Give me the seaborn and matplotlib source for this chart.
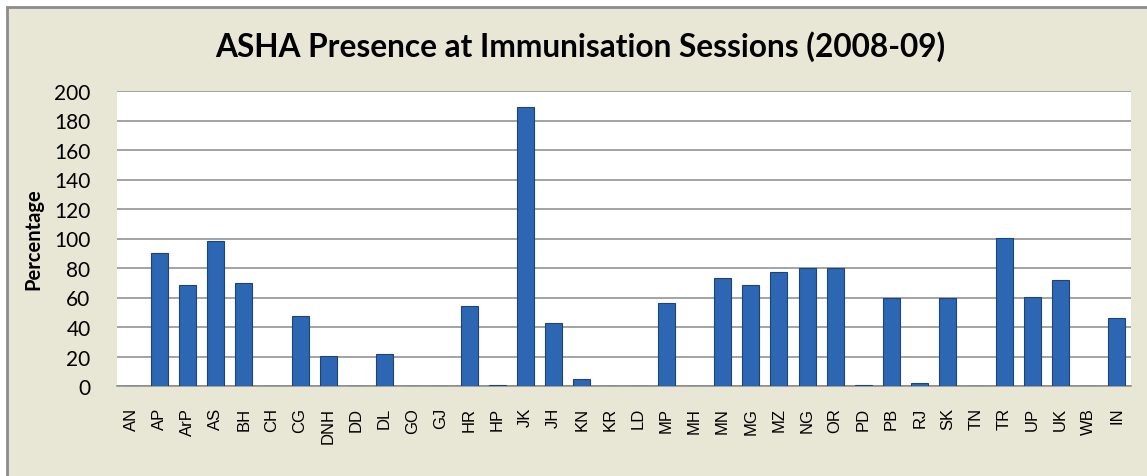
import numpy as np
import pandas as pd
import seaborn as sns
from matplotlib import pyplot as plt
from matplotlib.patches import Rectangle

states = ['AN', 'AP', 'ArP', 'AS', 'BH', 'CH', 'CG', 'DNH', 'DD', 'DL', 'GO', 'GJ',
          'HR', 'HP', 'JK', 'JH', 'KN', 'KR', 'LD', 'MP', 'MH', 'MN', 'MG', 'MZ',
          'NG', 'OR', 'PD', 'PB', 'RJ', 'SK', 'TN', 'TR', 'UP', 'UK', 'WB', 'IN']
percent = [0, 90, 68.5, 98, 70, 0, 47.5, 20.5, 0, 22, 0, 0,
           54.5, 0.5, 189, 42.5, 5, 0, 0, 56, 0, 73.5, 68.5, 77,
           80, 80, 1, 59.5, 2, 59.5, 0, 100.5, 60.5, 72, 0.3, 46]
yticks = list(range(0, 201, 20))

df = pd.DataFrame({'state': states, 'pct': percent})

sns.set_style('white')
plt.rcParams['font.family'] = ['Lato', 'DejaVu Sans']
plt.rcParams['text.color'] = 'black'
plt.rcParams['axes.labelcolor'] = 'black'
plt.rcParams['xtick.color'] = 'black'
plt.rcParams['ytick.color'] = 'black'

fig = plt.figure(figsize=(11.47, 4.77), dpi=100, facecolor='white')
# beige chart frame
frame = Rectangle((7/1147, -0.01), 1.1, 1 - 8/477 + 0.01,
                  transform=fig.transFigure, facecolor='#e8e6d5',
                  edgecolor='#8c8c8c', linewidth=2, zorder=-5)
fig.patches.append(frame)

ax = fig.add_axes([117/1147, 1 - 387/477, (1131 - 117)/1147, (387 - 92)/477])
ax.set_zorder(2)
ax.set_facecolor('white')
sns.barplot(data=df, x='state', y='pct', color='#2d66b3', width=0.6,
            edgecolor='#1d4479', linewidth=0.8, saturation=1, ax=ax, zorder=3)

ax.set_ylim(0, 200)
ax.set_xlim(-0.5, len(states) - 0.5)
ax.set_yticks(yticks)
ax.set_yticklabels([str(t) for t in yticks], fontsize=15)
ax.yaxis.grid(True, color='#8a8a8a', linewidth=1.1, zorder=0)
ax.set_axisbelow(True)
for s in ['left', 'right', 'top']:
    ax.spines[s].set_visible(False)
ax.spines['bottom'].set_color('#8a8a8a')
ax.spines['bottom'].set_linewidth(1.1)

ax.set_xticks(range(len(states)))
ax.set_xticklabels(states, rotation=90, fontsize=12, family=['Liberation Sans', 'DejaVu Sans'])
ax.tick_params(axis='y', length=0, pad=19)
ax.tick_params(axis='x', length=0, pad=15)
ax.set_xlabel('')
ax.set_ylabel('Percentage', fontsize=14.5, fontweight='bold', labelpad=8)

fig.text(0.506, 1 - 47/477, 'ASHA Presence at Immunisation Sessions (2008-09)',
         ha='center', va='center', fontsize=22.8, fontweight='bold')

fig.savefig('out.png', dpi=100, facecolor=fig.get_facecolor())
